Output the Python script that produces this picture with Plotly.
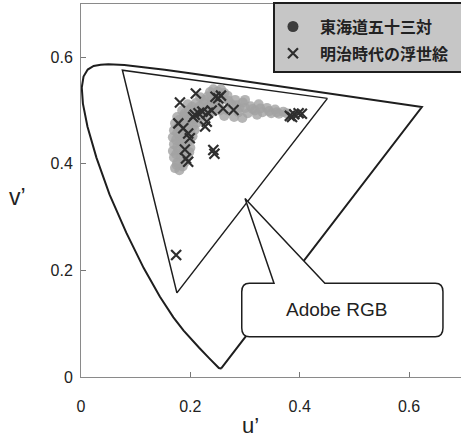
import plotly.graph_objects as go

# ---- data -------------------------------------------------------------
# CIE 1976 u'v' spectral locus (380 nm ... 700 nm), closed by purple line
locus_u = [0.2568, 0.2557, 0.2522, 0.2461, 0.2347, 0.2161, 0.1877, 0.1690, 0.1441,
           0.1147, 0.0828, 0.0521, 0.0282, 0.0119, 0.0035, 0.0014, 0.0046, 0.0123,
           0.0231, 0.0360, 0.0501, 0.0792, 0.1127, 0.1531, 0.2026, 0.2623, 0.3315,
           0.4035, 0.5203, 0.5830, 0.6234, 0.2568]
locus_v = [0.0166, 0.0159, 0.0169, 0.0226, 0.0350, 0.0549, 0.0871, 0.1119, 0.1510,
           0.2044, 0.2708, 0.3427, 0.4117, 0.4698, 0.5131, 0.5432, 0.5638, 0.5770,
           0.5837, 0.5861, 0.5868, 0.5856, 0.5821, 0.5766, 0.5694, 0.5604, 0.5501,
           0.5393, 0.5219, 0.5125, 0.5065, 0.0166]

# Adobe RGB gamut (R, G, B, R)
adobe_u = [0.4507, 0.0757, 0.1754, 0.4507]
adobe_v = [0.5229, 0.5757, 0.1579, 0.5229]

# 東海道五十三対 (circles)
tokaido_u = [0.172, 0.180, 0.186, 0.176, 0.190, 0.170, 0.182, 0.194, 0.168, 0.178,
             0.190, 0.200, 0.170, 0.182, 0.195, 0.168, 0.180, 0.192, 0.204, 0.170,
             0.182, 0.196, 0.208, 0.172, 0.185, 0.198, 0.212, 0.176, 0.189, 0.203,
             0.218, 0.185, 0.198, 0.212, 0.226, 0.240, 0.195, 0.210, 0.224, 0.238,
             0.252, 0.218, 0.232, 0.246, 0.260, 0.236, 0.250, 0.262, 0.268, 0.275,
             0.282, 0.290, 0.296, 0.305, 0.310, 0.318, 0.325, 0.332, 0.340, 0.348,
             0.355, 0.362, 0.370, 0.262, 0.280, 0.295, 0.254,
             0.175, 0.188, 0.174, 0.186, 0.198, 0.176, 0.188, 0.174, 0.187, 0.200,
             0.176, 0.188, 0.200, 0.178, 0.191, 0.205, 0.180, 0.194, 0.208, 0.222,
             0.190, 0.205, 0.219, 0.233, 0.247, 0.203, 0.217, 0.231, 0.245, 0.226,
             0.240, 0.254, 0.242, 0.256, 0.268, 0.270, 0.285, 0.300, 0.314, 0.328,
             0.344, 0.358, 0.376, 0.300, 0.288, 0.322]
tokaido_v = [0.392, 0.388, 0.395, 0.402, 0.403, 0.412, 0.414, 0.415, 0.424, 0.426,
             0.428, 0.430, 0.437, 0.440, 0.441, 0.450, 0.452, 0.454, 0.452, 0.463,
             0.465, 0.466, 0.464, 0.476, 0.478, 0.479, 0.477, 0.488, 0.490, 0.491,
             0.489, 0.500, 0.502, 0.503, 0.500, 0.498, 0.512, 0.514, 0.515, 0.512,
             0.510, 0.525, 0.527, 0.525, 0.522, 0.535, 0.536, 0.533, 0.500, 0.512,
             0.520, 0.505, 0.515, 0.495, 0.508, 0.500, 0.512, 0.497, 0.505, 0.495,
             0.502, 0.494, 0.498, 0.490, 0.488, 0.486, 0.500,
             0.398, 0.409, 0.418, 0.421, 0.422, 0.432, 0.434, 0.445, 0.446, 0.446,
             0.458, 0.459, 0.460, 0.470, 0.471, 0.471, 0.483, 0.484, 0.484, 0.482,
             0.495, 0.496, 0.494, 0.492, 0.504, 0.507, 0.508, 0.506, 0.517, 0.520,
             0.520, 0.529, 0.540, 0.540, 0.528, 0.518, 0.510, 0.505, 0.503, 0.504,
             0.499, 0.497, 0.495, 0.520, 0.497, 0.492]

# 明治時代の浮世絵 (crosses)
meiji_u = [0.210, 0.181, 0.251, 0.246, 0.256, 0.215, 0.222, 0.232, 0.208, 0.205,
           0.260, 0.279, 0.239, 0.178, 0.187, 0.196, 0.230, 0.227, 0.199, 0.190,
           0.192, 0.196, 0.242, 0.244, 0.382, 0.390, 0.398, 0.404, 0.386, 0.174]
meiji_v = [0.532, 0.515, 0.523, 0.526, 0.528, 0.495, 0.498, 0.496, 0.492, 0.488,
           0.504, 0.501, 0.500, 0.476, 0.467, 0.457, 0.479, 0.470, 0.448, 0.427,
           0.410, 0.404, 0.426, 0.419, 0.490, 0.493, 0.495, 0.494, 0.488, 0.229]

tick_vals = [0, 0.2, 0.4, 0.6]
tick_text = ["0", "0.2", "0.4", "0.6"]

# ---- figure -----------------------------------------------------------
fig = go.Figure()

fig.add_trace(go.Scatter(x=locus_u, y=locus_v, mode="lines",
                         line=dict(color="#1e1e1e", width=2), showlegend=False,
                         hoverinfo="skip"))
fig.add_trace(go.Scatter(x=adobe_u, y=adobe_v, mode="lines",
                         line=dict(color="#1e1e1e", width=1.5), showlegend=False,
                         hoverinfo="skip"))
fig.add_trace(go.Scatter(x=tokaido_u, y=tokaido_v, mode="markers",
                         marker=dict(symbol="circle", size=10, color="#a2a2a2",
                                     opacity=0.8),
                         legendgroup="a", showlegend=False))
fig.add_trace(go.Scatter(x=[None], y=[None], mode="markers",
                         name="東海道五十三対",
                         marker=dict(symbol="circle", size=11, color="#3c3c3c"),
                         legendgroup="a"))
fig.add_trace(go.Scatter(x=meiji_u, y=meiji_v, mode="markers",
                         name="明治時代の浮世絵",
                         marker=dict(symbol="x-thin", size=10,
                                     line=dict(color="#2e2e2e", width=2.2)),
                         legendgroup="b"))

fig.update_layout(
    width=461, height=439,
    margin=dict(l=81, r=0, t=4, b=62),
    paper_bgcolor="white", plot_bgcolor="white",
    font=dict(family="Liberation Sans, Arial, sans-serif", color="#222"),
    xaxis=dict(range=[0, 0.695], tickvals=tick_vals, ticktext=tick_text,
               ticks="inside", ticklen=5, tickcolor="#777", showgrid=False,
               zeroline=False, showline=True, linecolor="#8a8a8a", linewidth=1,
               mirror=True, tickfont=dict(size=16, color="#222"),
               ticklabelstandoff=15),
    yaxis=dict(range=[0, 0.7], tickvals=tick_vals, ticktext=tick_text,
               ticks="inside", ticklen=5, tickcolor="#777", showgrid=False,
               zeroline=False, showline=True, linecolor="#8a8a8a", linewidth=1,
               tickfont=dict(size=16, color="#222"), ticklabelstandoff=4),
    legend=dict(x=0.4868, y=0.985, xanchor="left", yanchor="top",
                bgcolor="rgba(0,0,0,0)", borderwidth=0,
                font=dict(family="Noto Sans CJK JP", size=16, color="#222",
                          weight="bold"),
                itemwidth=44, tracegroupgap=3, traceorder="grouped"),
    showlegend=True,
)

# legend box (stippled grey panel with dark frame)
fig.add_shape(type="rect", xref="paper", yref="paper",
              x0=0.5079, x1=1.01, y0=0.818, y1=1.003,
              fillcolor="#c6c6c6", line=dict(color="#1e1e1e", width=2),
              layer="above")

# axis titles (horizontal)
fig.add_annotation(text="v’", xref="paper", yref="paper", x=-0.166, y=0.483,
                   xanchor="center", yanchor="middle",
                   showarrow=False, font=dict(size=23, color="#222"))
fig.add_annotation(text="u’", xref="paper", yref="paper", x=0.445, y=-0.1287,
                   xanchor="center", yanchor="middle",
                   showarrow=False, font=dict(size=22, color="#222"))

# callout "Adobe RGB"
callout = ("M 0.353 0.176 L 0.300 0.335 L 0.446 0.176 L 0.648 0.176 "
           "Q 0.662 0.176 0.662 0.160 L 0.662 0.092 Q 0.662 0.0756 0.648 0.0756 "
           "L 0.308 0.0756 Q 0.294 0.0756 0.294 0.092 L 0.294 0.160 "
           "Q 0.294 0.176 0.308 0.176 Z")
fig.add_shape(type="path", path=callout, xref="x", yref="y",
              fillcolor="white", line=dict(color="#1e1e1e", width=1.5),
              layer="above")
fig.add_annotation(text="Adobe RGB", x=0.468, y=0.127, xref="x", yref="y",
                   showarrow=False, font=dict(size=19, color="#222"))

fig.write_html("out.html", config={"displayModeBar": False},
               post_script="document.body.style.margin='0';"
                           "document.body.style.overflow='hidden';")
